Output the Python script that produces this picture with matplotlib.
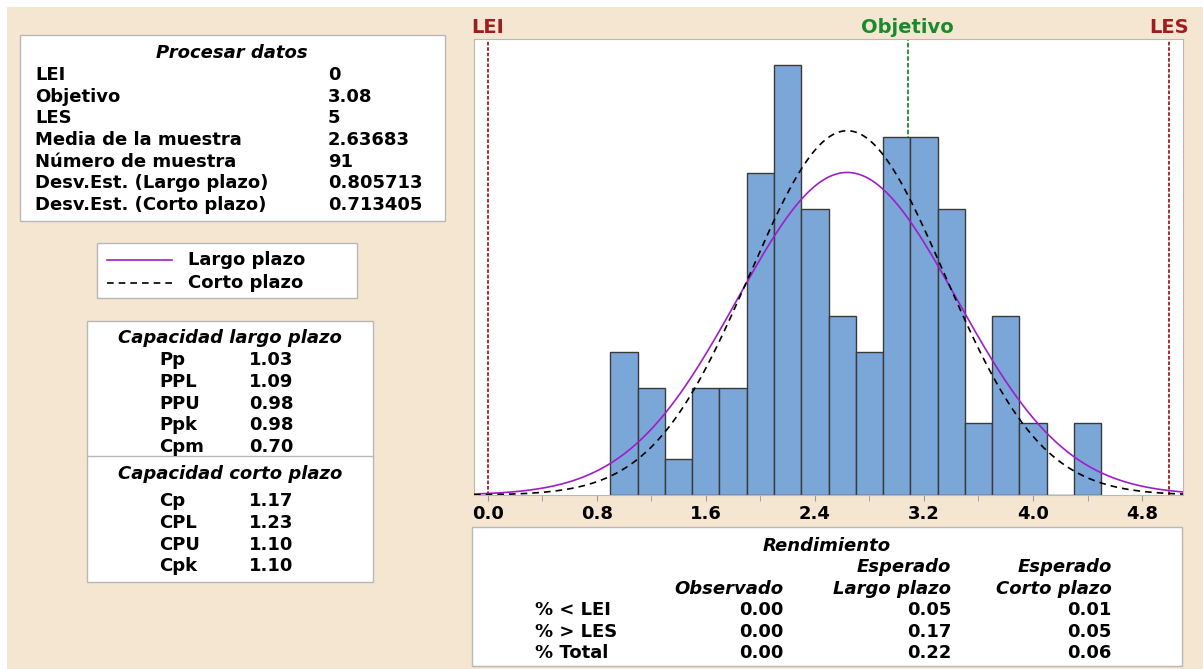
import numpy as np
import matplotlib.pyplot as plt
from matplotlib.patches import Rectangle

plt.rcParams['font.family'] = ['DejaVu Sans']
plt.rcParams['font.weight'] = 'bold'

## process data
lei, objetivo, les = 0.0, 3.08, 5.0
media = 2.63683
n_muestra = 91
sd_largo = 0.805713
sd_corto = 0.713405

## histogram (bin width 0.2)
bin_centers = [1.0, 1.2, 1.4, 1.6, 1.8, 2.0, 2.2, 2.4, 2.6, 2.8, 3.0, 3.2, 3.4, 3.6, 3.8, 4.0, 4.2, 4.4]
counts = [4, 3, 1, 3, 3, 9, 12, 8, 5, 4, 10, 10, 8, 2, 5, 2, 0, 2]
bin_width = 0.2
x_ticks = [0.0, 0.8, 1.6, 2.4, 3.2, 4.0, 4.8]
x_minor = [0.4, 1.2, 2.0, 2.8, 3.6, 4.4]

proc_labels = ['LEI', 'Objetivo', 'LES', 'Media de la muestra', 'Número de muestra',
               'Desv.Est. (Largo plazo)', 'Desv.Est. (Corto plazo)']
proc_values = ['0', '3.08', '5', '2.63683', '91', '0.805713', '0.713405']

largo_labels = ['Pp', 'PPL', 'PPU', 'Ppk', 'Cpm']
largo_values = ['1.03', '1.09', '0.98', '0.98', '0.70']
corto_labels = ['Cp', 'CPL', 'CPU', 'Cpk']
corto_values = ['1.17', '1.23', '1.10', '1.10']

rend_rows = ['% < LEI', '% > LES', '% Total']
rend_obs = ['0.00', '0.00', '0.00']
rend_largo = ['0.05', '0.17', '0.22']
rend_corto = ['0.01', '0.05', '0.06']

beige = '#F5E6D2'
bar_col = '#7BA6D8'
purple = '#A01EC8'
red = '#A01C1E'
green = '#1A8A2C'
frame = '#B8B8B8'
fs = 13


def normal(x, mu, sd):
    return np.exp(-0.5 * ((x - mu) / sd) ** 2) / (sd * np.sqrt(2 * np.pi))


fig = plt.figure(figsize=(12.03, 6.69), dpi=100)
W, H = 1203, 669

# background layer in pixel units
bg = fig.add_axes([0, 0, 1, 1], zorder=0)
bg.set_xlim(0, W)
bg.set_ylim(H, 0)
bg.axis('off')
bg.add_patch(Rectangle((7, 7), W - 7, H - 7, fc=beige, ec='none'))

## Procesar datos
bg.add_patch(Rectangle((20, 35), 425, 186, fc='white', ec=frame, lw=1))
bg.text(232, 53, 'Procesar datos', ha='center', va='center', fontsize=fs, style='italic')
for i, (lab, val) in enumerate(zip(proc_labels, proc_values)):
    y = 75 + 21.7 * i
    bg.text(35, y, lab, ha='left', va='center', fontsize=fs)
    bg.text(328, y, val, ha='left', va='center', fontsize=fs)

## legend
bg.add_patch(Rectangle((97, 243), 260, 55, fc='white', ec=frame, lw=1))
bg.plot([107, 172], [260, 260], color=purple, lw=1.2)
bg.plot([107, 172], [283, 283], color='k', lw=1.2, ls=(0, (4, 3)))
bg.text(188, 260, 'Largo plazo', ha='left', va='center', fontsize=fs)
bg.text(188, 283, 'Corto plazo', ha='left', va='center', fontsize=fs)

## capability
bg.add_patch(Rectangle((87, 321), 286, 261, fc='white', ec=frame, lw=1))
bg.plot([87, 373], [456, 456], color=frame, lw=1)
bg.text(230, 338, 'Capacidad largo plazo', ha='center', va='center', fontsize=fs, style='italic')
for i, (lab, val) in enumerate(zip(largo_labels, largo_values)):
    y = 360 + 21.8 * i
    bg.text(159, y, lab, ha='left', va='center', fontsize=fs)
    bg.text(249, y, val, ha='left', va='center', fontsize=fs)
bg.text(230, 474, 'Capacidad corto plazo', ha='center', va='center', fontsize=fs, style='italic')
for i, (lab, val) in enumerate(zip(corto_labels, corto_values)):
    y = 501 + 21.8 * i
    bg.text(159, y, lab, ha='left', va='center', fontsize=fs)
    bg.text(249, y, val, ha='left', va='center', fontsize=fs)

## Rendimiento
bg.add_patch(Rectangle((472, 527), 710, 139, fc='white', ec=frame, lw=1))
bg.text(827, 546, 'Rendimiento', ha='center', va='center', fontsize=fs, style='italic')
bg.text(951, 567, 'Esperado', ha='right', va='center', fontsize=fs, style='italic')
bg.text(1112, 567, 'Esperado', ha='right', va='center', fontsize=fs, style='italic')
bg.text(783, 589, 'Observado', ha='right', va='center', fontsize=fs, style='italic')
bg.text(951, 589, 'Largo plazo', ha='right', va='center', fontsize=fs, style='italic')
bg.text(1112, 589, 'Corto plazo', ha='right', va='center', fontsize=fs, style='italic')
for i in range(len(rend_rows)):
    y = 610 + 21.7 * i
    bg.text(535, y, rend_rows[i], ha='left', va='center', fontsize=fs)
    bg.text(783, y, rend_obs[i], ha='right', va='center', fontsize=fs)
    bg.text(951, y, rend_largo[i], ha='right', va='center', fontsize=fs)
    bg.text(1112, y, rend_corto[i], ha='right', va='center', fontsize=fs)

## histogram axes
ax = fig.add_axes([474 / W, 1 - 495 / H, (1183 - 474) / W, (495 - 39) / H], zorder=1)
ax.set_facecolor('white')
ax.bar(bin_centers, counts, width=bin_width, color=bar_col, edgecolor='#3A3A3A', linewidth=1.0, zorder=2)

xs = np.linspace(-0.1, 5.1, 500)
scale = n_muestra * bin_width
ax.plot(xs, scale * normal(xs, media, sd_largo), color=purple, lw=1.2, zorder=3)
ax.plot(xs, scale * normal(xs, media, sd_corto), color='k', lw=1.2, ls=(0, (4, 3)), zorder=3)

ax.axvline(lei, color=red, lw=1.3, ls=(0, (2, 1)), zorder=1)
ax.axvline(les, color=red, lw=1.3, ls=(0, (2, 1)), zorder=1)
ax.axvline(objetivo, color=green, lw=1.3, ls=(0, (2.5, 1.2)), zorder=1)
for xv, txt, col in [(lei, 'LEI', red), (objetivo, 'Objetivo', green), (les, 'LES', red)]:
    ax.annotate(txt, xy=(xv, 1), xycoords=('data', 'axes fraction'), xytext=(0, 8),
                textcoords='offset points', ha='center', va='center', color=col, fontsize=14)

ax.set_xticks(x_ticks)
ax.set_xticklabels(['%.1f' % t for t in x_ticks])
ax.set_xticks(x_minor, minor=True)
ax.set_yticks([])
ax.set_xlim(-0.1, 5.1)
ax.set_ylim(0, 12.74)
ax.tick_params(axis='x', which='both', direction='out', length=4, color='#999999', labelsize=13, pad=3)
for s in ax.spines.values():
    s.set_color(frame)

fig.savefig('out.png', dpi=100)
